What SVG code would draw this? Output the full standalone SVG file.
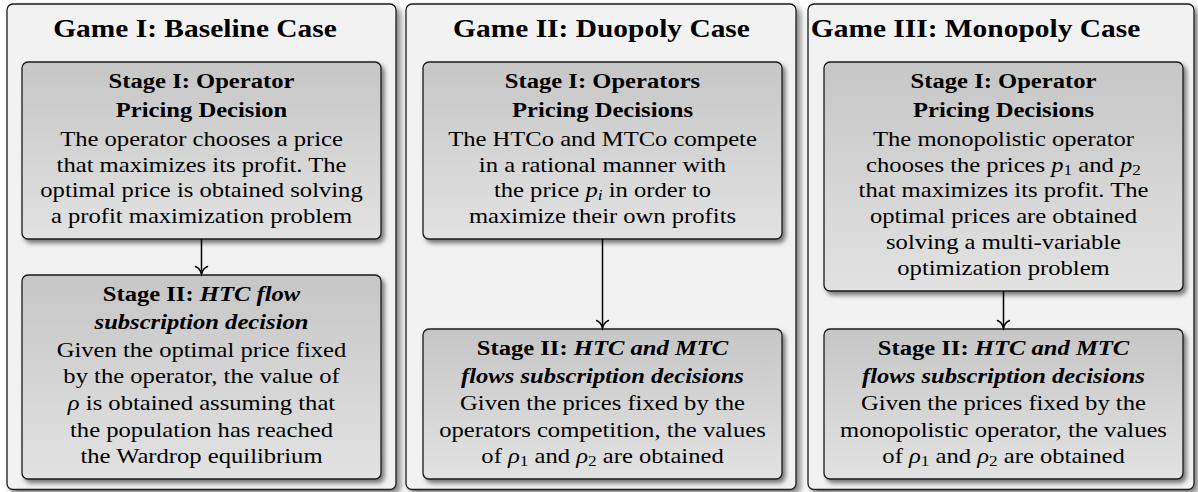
<svg xmlns="http://www.w3.org/2000/svg" width="1198" height="492" viewBox="0 0 1198 492">
<defs>
<style>
text{font-family:"Liberation Serif","Times New Roman",serif;font-size:21.4px;fill:#000;text-anchor:middle}
.t{font-size:25.6px;font-weight:bold}
.b{font-weight:bold}
.i{font-style:italic}
.bi{font-weight:bold;font-style:italic}
.sub{font-size:15px}
.panel{fill:#f2f2f2;stroke:#1a1a1a;stroke-width:1.3}
.box{fill:url(#g);stroke:#1a1a1a;stroke-width:1.3}
.conn{stroke:#000;stroke-width:1.5;fill:none}
</style>
<linearGradient id="g" x1="0" y1="0" x2="0" y2="1">
<stop offset="0" stop-color="#c6c6c6"/>
<stop offset="1" stop-color="#e2e2e2"/>
</linearGradient>
<filter id="shp" x="-5%" y="-5%" width="115%" height="115%">
<feDropShadow dx="4" dy="4" stdDeviation="3" flood-color="#000" flood-opacity="0.5"/>
</filter>
<filter id="shb" x="-5%" y="-5%" width="115%" height="120%">
<feDropShadow dx="3" dy="3.5" stdDeviation="2.2" flood-color="#000" flood-opacity="0.5"/>
</filter>
<marker id="ar" markerUnits="userSpaceOnUse" markerWidth="16" markerHeight="16" refX="0" refY="0" viewBox="-8 -8 16 16" orient="auto" overflow="visible">
<path d="M-7.5,-6 C-6,-2.4 -2.6,-0.7 0,0 C-2.6,0.7 -6,2.4 -7.5,6" fill="none" stroke="#000" stroke-width="1.5" stroke-linecap="round"/>
</marker>
</defs>

<g id="game1">
<rect class="panel" x="7" y="4" width="389" height="485.5" rx="6" filter="url(#shp)"/>
<text class="t" transform="translate(195,0) scale(1.15,1)" x="0" y="37">Game I: Baseline Case</text>
</g>
<g id="game2">
<rect class="panel" x="406" y="4" width="390" height="485.5" rx="6" filter="url(#shp)"/>
<text class="t" transform="translate(601.5,0) scale(1.15,1)" x="0" y="37">Game II: Duopoly Case</text>
</g>
<g id="game3">
<rect class="panel" x="808" y="4" width="386" height="485.5" rx="6" filter="url(#shp)"/>
<text class="t" transform="translate(975.5,0) scale(1.15,1)" x="0" y="37">Game III: Monopoly Case</text>
</g>

<g id="g1s1">
<rect class="box" x="22" y="62" width="359" height="177" rx="6" filter="url(#shb)"/>
<g transform="translate(201.5,0) scale(1.15,1)">
<text class="b" x="0" y="88.3">Stage I: Operator</text>
<text class="b" x="0" y="117.3">Pricing Decision</text>
<text x="0" y="145.7">The operator chooses a price</text>
<text x="0" y="171.7">that maximizes its profit. The</text>
<text x="0" y="196.7">optimal price is obtained solving</text>
<text x="0" y="222.7">a profit maximization problem</text>
</g>
</g>

<g id="g1s2">
<rect class="box" x="22" y="275" width="359" height="204" rx="6" filter="url(#shb)"/>
<g transform="translate(201.5,0) scale(1.15,1)">
<text x="0" y="301"><tspan class="b">Stage II: </tspan><tspan class="bi">HTC flow</tspan></text>
<text class="bi" x="0" y="329.3">subscription decision</text>
<text x="0" y="356.7">Given the optimal price fixed</text>
<text x="0" y="383.3">by the operator, the value of</text>
<text x="0" y="410"><tspan class="i">ρ</tspan> is obtained assuming that</text>
<text x="0" y="436.7">the population has reached</text>
<text x="0" y="462.7">the Wardrop equilibrium</text>
</g>
</g>

<g id="g2s1">
<rect class="box" x="423" y="62" width="359" height="177" rx="6" filter="url(#shb)"/>
<g transform="translate(602.5,0) scale(1.15,1)">
<text class="b" x="0" y="88.3">Stage I: Operators</text>
<text class="b" x="0" y="117.3">Pricing Decisions</text>
<text x="0" y="145.7">The HTCo and MTCo compete</text>
<text x="0" y="171.7">in a rational manner with</text>
<text x="0" y="196.7">the price <tspan class="i">p</tspan><tspan class="sub i" dy="3">i</tspan><tspan dy="-3"> in order to</tspan></text>
<text x="0" y="222.7">maximize their own profits</text>
</g>
</g>

<g id="g2s2">
<rect class="box" x="423" y="329" width="359" height="150" rx="6" filter="url(#shb)"/>
<g transform="translate(602.5,0) scale(1.15,1)">
<text x="0" y="355"><tspan class="b">Stage II: </tspan><tspan class="bi">HTC and MTC</tspan></text>
<text class="bi" x="0" y="383.3">flows subscription decisions</text>
<text x="0" y="410">Given the prices fixed by the</text>
<text x="0" y="436.7">operators competition, the values</text>
<text x="0" y="462.7">of <tspan class="i">ρ</tspan><tspan class="sub" dy="3">1</tspan><tspan dy="-3"> and </tspan><tspan class="i">ρ</tspan><tspan class="sub" dy="3">2</tspan><tspan dy="-3"> are obtained</tspan></text>
</g>
</g>

<g id="g3s1">
<rect class="box" x="824" y="62" width="359" height="229" rx="6" filter="url(#shb)"/>
<g transform="translate(1003.5,0) scale(1.15,1)">
<text class="b" x="0" y="88.3">Stage I: Operator</text>
<text class="b" x="0" y="117.3">Pricing Decisions</text>
<text x="0" y="145.7">The monopolistic operator</text>
<text x="0" y="171.7">chooses the prices <tspan class="i">p</tspan><tspan class="sub" dy="3">1</tspan><tspan dy="-3"> and </tspan><tspan class="i">p</tspan><tspan class="sub" dy="3">2</tspan></text>
<text x="0" y="196.7">that maximizes its profit. The</text>
<text x="0" y="222.7">optimal prices are obtained</text>
<text x="0" y="249.3">solving a multi-variable</text>
<text x="0" y="275.5">optimization problem</text>
</g>
</g>

<g id="g3s2">
<rect class="box" x="824" y="329" width="359" height="150" rx="6" filter="url(#shb)"/>
<g transform="translate(1003.5,0) scale(1.15,1)">
<text x="0" y="355"><tspan class="b">Stage II: </tspan><tspan class="bi">HTC and MTC</tspan></text>
<text class="bi" x="0" y="383.3">flows subscription decisions</text>
<text x="0" y="410">Given the prices fixed by the</text>
<text x="0" y="436.7">monopolistic operator, the values</text>
<text x="0" y="462.7">of <tspan class="i">ρ</tspan><tspan class="sub" dy="3">1</tspan><tspan dy="-3"> and </tspan><tspan class="i">ρ</tspan><tspan class="sub" dy="3">2</tspan><tspan dy="-3"> are obtained</tspan></text>
</g>
</g>

<g id="connectors">
<line class="conn" x1="201.5" y1="239" x2="201.5" y2="274" marker-end="url(#ar)"/>
<line class="conn" x1="602.5" y1="239" x2="602.5" y2="328" marker-end="url(#ar)"/>
<line class="conn" x1="1003.5" y1="291" x2="1003.5" y2="328" marker-end="url(#ar)"/>
</g>
</svg>
